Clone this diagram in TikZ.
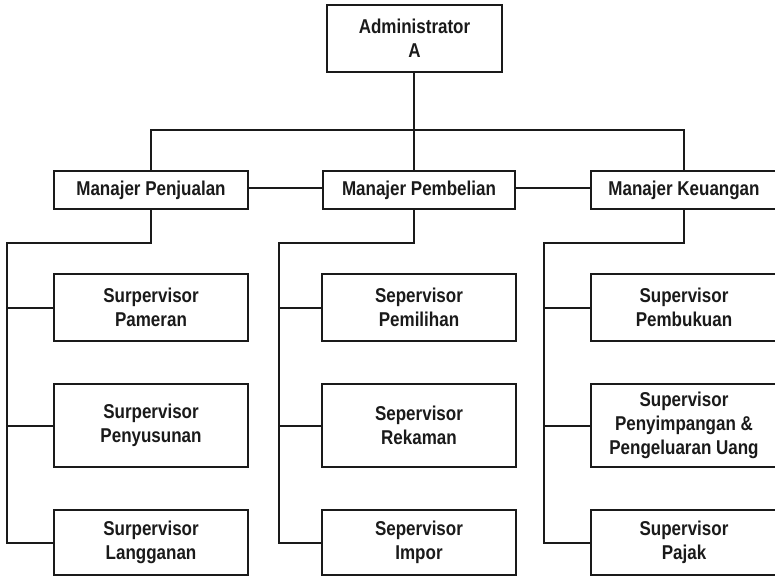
\documentclass[tikz,border=0pt]{standalone}
\usepackage{fontspec}
\newfontfamily\orgfont[FakeStretch=0.85]{Liberation Sans}
\definecolor{ink}{HTML}{1A1A1A}
\begin{document}
\begin{tikzpicture}[x=1pt,y=-1pt,
  box/.style={draw=ink,line width=2pt,fill=white,inner sep=0pt,align=center,
    font=\orgfont\bfseries\fontsize{20}{24}\selectfont,text=ink},
  wire/.style={draw=ink,line width=2pt}]
\useasboundingbox (0,0) rectangle (775,577);
\clip (0,0) rectangle (775,577);
% top
\node[box,minimum width=175pt,minimum height=67pt] (adm) at (414.5,38.5) {Administrator\\A};
% managers
\node[box,minimum width=194pt,minimum height=38pt] (mpj) at (151,190) {Manajer Penjualan};
\node[box,minimum width=192pt,minimum height=38pt] (mpb) at (419,190) {Manajer Pembelian};
\node[box,minimum width=186pt,minimum height=38pt] (mku) at (684,190) {Manajer Keuangan};
% supervisors column 1
\node[box,minimum width=194pt,minimum height=67pt] (s11) at (151,307.5) {Surpervisor\\Pameran};
\node[box,minimum width=194pt,minimum height=83pt] (s12) at (151,425.5) {Surpervisor\\Penyusunan};
\node[box,minimum width=194pt,minimum height=65pt] (s13) at (151,542.5) {Surpervisor\\Langganan};
% column 2
\node[box,minimum width=194pt,minimum height=67pt] (s21) at (419,307.5) {Sepervisor\\Pemilihan};
\node[box,minimum width=194pt,minimum height=83pt] (s22) at (419,425.5) {Sepervisor\\Rekaman};
\node[box,minimum width=194pt,minimum height=65pt] (s23) at (419,542.5) {Sepervisor\\Impor};
% column 3
\node[box,minimum width=186pt,minimum height=67pt] (s31) at (684,307.5) {Supervisor\\Pembukuan};
\node[box,minimum width=186pt,minimum height=83pt] (s32) at (684,425.5) {Supervisor\\Penyimpangan \&\\Pengeluaran Uang};
\node[box,minimum width=186pt,minimum height=65pt] (s33) at (684,542.5) {Supervisor\\Pajak};
% coordinates
\coordinate (busL) at (151,130);
\coordinate (busR) at (684,130);
\coordinate (c1) at (7,243);
\coordinate (c2) at (279,243);
\coordinate (c3) at (544,243);
% connectors
\draw[wire] (adm.south -| 413.5,0) -- (mpb.north -| 413.5,0);
\draw[wire] (mpj.north) -- (busL) -- (busR) -- (mku.north);
\draw[wire] (mpj.east |- 0,188) -- (mpb.west |- 0,188);
\draw[wire] (mpb.east |- 0,188) -- (mku.west |- 0,188);
\draw[wire] (mpj.south) -- (mpj.south |- c1) -- (c1) -- (c1 |- s13.west) -- (s13.west);
\draw[wire] (c1 |- s11.west) -- (s11.west);
\draw[wire] (c1 |- s12.west) -- (s12.west);
\draw[wire] (mpb.south -| 413.5,0) -- (413.5,243) -- (c2) -- (c2 |- s23.west) -- (s23.west);
\draw[wire] (c2 |- s21.west) -- (s21.west);
\draw[wire] (c2 |- s22.west) -- (s22.west);
\draw[wire] (mku.south) -- (mku.south |- c3) -- (c3) -- (c3 |- s33.west) -- (s33.west);
\draw[wire] (c3 |- s31.west) -- (s31.west);
\draw[wire] (c3 |- s32.west) -- (s32.west);
\end{tikzpicture}
\end{document}
